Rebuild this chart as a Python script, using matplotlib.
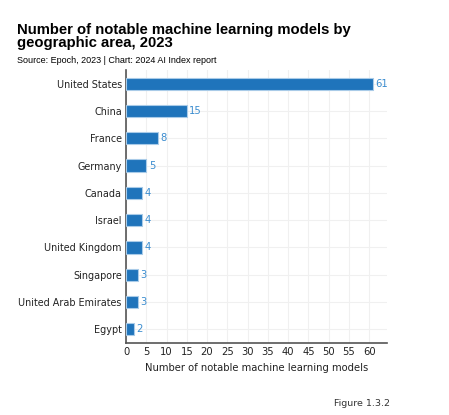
import matplotlib
matplotlib.use("Agg")
import matplotlib.pyplot as plt

countries = ["United States", "China", "France", "Germany", "Canada", "Israel",
             "United Kingdom", "Singapore", "United Arab Emirates", "Egypt"]
values = [61, 15, 8, 5, 4, 4, 4, 3, 3, 2]
xticks = list(range(0, 65, 5))

W, H = 449, 415
fig = plt.figure(figsize=(W/100, H/100), dpi=100)
ax = fig.add_axes([126/W, 1-343/H, (387-126)/W, (343-70)/H])

bar_color = "#1f74bb"
label_color = "#3a8ccf"
ypos = list(range(len(countries)))
ax.barh(ypos, values, height=0.45, color=bar_color, edgecolor="#a9cbe8", linewidth=0.8, zorder=3)
for y, v in zip(ypos, values):
    ax.text(v + 0.6, y, str(v), va="center", ha="left", fontsize=7.2, color=label_color)

ax.set_ylim(9.5, -0.5)
ax.set_xlim(0, 64.4)
ax.set_yticks(ypos)
ax.set_yticklabels(countries, fontsize=6.9, color="#222222")
ax.set_xticks(xticks)
ax.set_xticklabels([str(t) for t in xticks], fontsize=7.2, color="#222222")
ax.tick_params(length=0, pad=3)
ax.grid(True, color="#f0f0f0", linewidth=0.8, zorder=0)
for s in ["top", "right"]:
    ax.spines[s].set_visible(False)
for s in ["left", "bottom"]:
    ax.spines[s].set_color("#555555")
    ax.spines[s].set_linewidth(1.2)
ax.set_xlabel("Number of notable machine learning models", fontsize=7.2, color="#222222", labelpad=4)

fig.text(17/W, 1-23/H, "Number of notable machine learning models by\ngeographic area, 2023",
         fontsize=10.7, fontweight="bold", family="Liberation Sans", ha="left", va="top",
         linespacing=0.95)
fig.text(17/W, 1-56/H, "Source: Epoch, 2023 | Chart: 2024 AI Index report",
         fontsize=6.5, family="Liberation Sans", ha="left", va="top")
fig.text(390/W, 1-403/H, "Figure 1.3.2", fontsize=6.8, ha="right", va="center", color="#333333")

fig.savefig("out.png", dpi=100)
